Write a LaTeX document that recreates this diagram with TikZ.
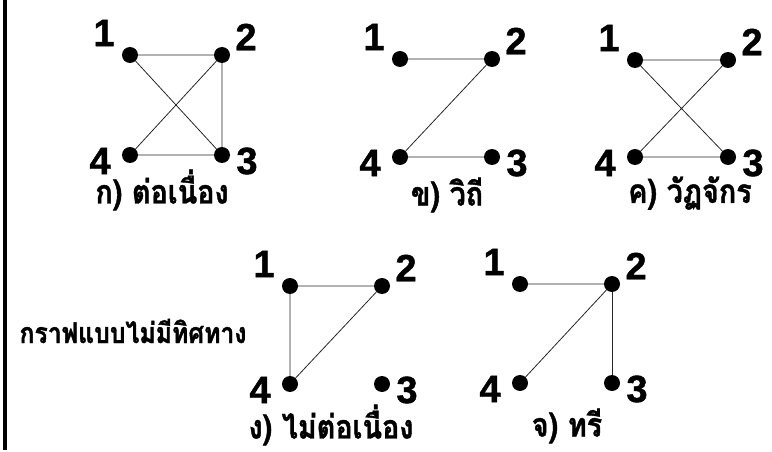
\documentclass[tikz,border=0pt]{standalone}
\usepackage{fontspec}
\setmainfont{Liberation Sans}[BoldFeatures={FakeBold=1.2}]
\newfontfamily\thaifont[Script=Thai,FakeStretch=0.87,BoldFeatures={FakeBold=1.2}]{Loma}
\usetikzlibrary{calc}

\tikzset{
  vtx/.style={circle, fill, inner sep=0pt, minimum size=16pt},
  numlbl/.style={font=\fontsize{38}{38}\selectfont\bfseries, inner sep=0pt},
  captxt/.style={font=\thaifont\fontsize{33}{33}\selectfont\bfseries, inner sep=0pt},
  lnk/.style={line width=0.8pt, black!85}
}

% 四个顶点及其编号
\newcommand{\vset}[5]{%
  \node[vtx] (#1-1) at (#2,#3) {};
  \node[vtx] (#1-2) at (#2+#4,#3) {};
  \node[vtx] (#1-3) at (#2+#4,#3+#5) {};
  \node[vtx] (#1-4) at (#2,#3+#5) {};
  \node[numlbl] (#1-n1) at ($(#1-1)+(-26,-22)$) {1};
  \node[numlbl] (#1-n2) at ($(#1-2)+(24,-18)$) {2};
  \node[numlbl] (#1-n3) at ($(#1-3)+(25,6)$) {3};
  \node[numlbl] (#1-n4) at ($(#1-4)+(-30,6)$) {4};
}

\begin{document}
\begin{tikzpicture}[x=1pt, y=-1pt]
    \useasboundingbox (0,0) rectangle (772,452);

    % 左侧竖线
    \draw[line width=4pt] (5.3,0) -- (5.3,450);

    % 顶点
    \vset{a}{130}{55}{92}{100}
    \vset{b}{400}{59}{92}{98}
    \vset{c}{635}{60}{93}{97}
    \vset{d}{290}{286}{92}{98}
    \vset{e}{520}{284}{92}{99}

    % 边
    \draw[lnk] (a-1) -- (a-2) -- (a-3) -- (a-4) -- (a-2);
    \draw[lnk] (a-1) -- (a-3);
    \draw[lnk] (b-1) -- (b-2) -- (b-4) -- (b-3);
    \draw[lnk] (c-1) -- (c-2) -- (c-4) -- (c-3) -- (c-1);
    \draw[lnk] (d-1) -- (d-2) -- (d-4) -- (d-1);
    \draw[lnk] (e-1) -- (e-2) -- (e-4);
    \draw[lnk] (e-2) -- (e-3);

    % 标题
    \node[captxt] (capa) at (162,190) {ก) ต่อเนื่อง};
    \node[captxt] (capb) at (447,195) {ข) วิถี};
    \node[captxt] (capc) at (690,193) {ค) วัฏจักร};
    \node[captxt] (capd) at (331,425) {ง) ไม่ต่อเนื่อง};
    \node[captxt] (cape) at (567,426) {จ) ทรี};
    \node[captxt, font=\thaifont\fontsize{28.5}{28.5}\selectfont\bfseries] (title) at (133,331) {กราฟแบบไม่มีทิศทาง};
\end{tikzpicture}
\end{document}
